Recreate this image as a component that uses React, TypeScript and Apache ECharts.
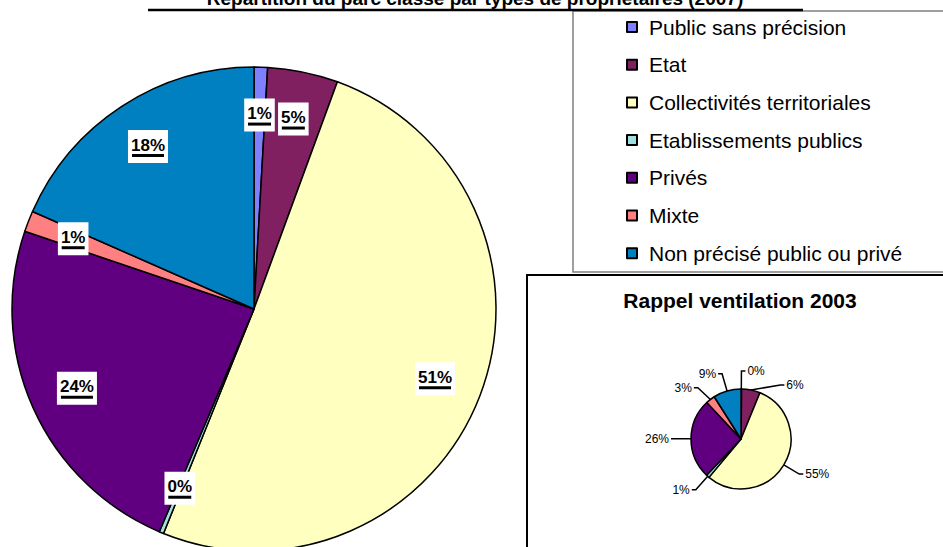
import React, { useEffect, useRef } from "react";
import * as echarts from "echarts";

const categories = [
  "Public sans précision",
  "Etat",
  "Collectivités territoriales",
  "Etablissements publics",
  "Privés",
  "Mixte",
  "Non précisé public ou privé",
];
const colors = ["#8080FF", "#802060", "#FFFFC0", "#A0E0E0", "#600080", "#FF8080", "#0080C0"];
// Répartition 2007 (%)
const values2007 = [0.9, 4.7, 50.5, 0.3, 23.8, 1.4, 18.4];
// Rappel ventilation 2003 (%)
const values2003 = [0.2, 6, 55, 1, 26, 3, 9];

const titleText = "Répartition du parc classé par types de propriétaires (2007)";
const subTitleText = "Rappel ventilation 2003";

const FONT = "'Liberation Sans', Arial, sans-serif";

export default function App() {
  const ref = useRef<HTMLDivElement>(null);
  useEffect(() => {
    if (!ref.current) return;
    const chart = echarts.init(ref.current, null, { renderer: "svg" });
    const mainData = categories.map((name, i) => ({
      name,
      value: values2007[i],
      itemStyle: { color: colors[i] },
    }));
    const smallData = categories.map((name, i) => ({
      name,
      value: values2003[i],
      itemStyle: { color: colors[i] },
    }));
    chart.setOption({
      animation: false,
      backgroundColor: "#fff",
      legend: {
        orient: "vertical",
        left: 626,
        top: 16,
        padding: 0,
        itemWidth: 10,
        itemHeight: 10,
        itemGap: 15.7,
        icon: "rect",
        data: categories,
        selectedMode: false,
        textStyle: {
          fontFamily: FONT,
          fontSize: 21,
          color: "#000",
          lineHeight: 22,
          padding: [0, 0, 0, 7],
        },
      },
      graphic: [
        {
          type: "rect",
          z: -1,
          shape: { x: 573, y: 11, width: 400, height: 261 },
          style: { fill: "none", stroke: "#808080", lineWidth: 1.5 },
        },
        {
          type: "rect",
          z: -1,
          shape: { x: 527, y: 275, width: 430, height: 300 },
          style: { fill: "#fff", stroke: "#000", lineWidth: 2 },
        },
        {
          type: "text",
          x: 475,
          y: -1.5,
          style: {
            text: titleText,
            font: `bold 19px ${FONT}`,
            fill: "#000",
            align: "center",
            verticalAlign: "middle",
          },
        },
        {
          type: "line",
          shape: { x1: 148, y1: 10, x2: 803, y2: 10 },
          style: { stroke: "#000", lineWidth: 2.5 },
        },
        {
          type: "text",
          x: 740,
          y: 300,
          style: {
            text: subTitleText,
            font: `bold 21px ${FONT}`,
            fill: "#000",
            align: "center",
            verticalAlign: "middle",
          },
        },
      ],
      series: [
        {
          type: "pie",
          center: [254, 309],
          radius: [0, 242],
          startAngle: 90,
          clockwise: true,
          silent: true,
          data: mainData,
          label: { show: false },
          labelLine: { show: false },
          itemStyle: { borderColor: "#000", borderWidth: 1.5 },
        },
        {
          type: "pie",
          center: [254, 309],
          radius: [140, 242],
          startAngle: 90,
          clockwise: true,
          silent: true,
          legendHoverLink: false,
          data: categories.map((name, i) => ({
            name,
            value: values2007[i],
            itemStyle: { color: "rgba(0,0,0,0)", borderWidth: 0 },
          })),
          label: {
            show: true,
            position: "inside",
            formatter: (p: any) => {
              const t = `${Math.round(p.value)}%`;
              return `{t|${t}}\n{${t.length > 2 ? "u3" : "u2"}| }`;
            },
            backgroundColor: "#fff",
            padding: [6, 3, 6, 3],
            rich: {
              t: {
                fontFamily: FONT,
                fontWeight: "bold",
                fontSize: 17,
                color: "#000",
                lineHeight: 18,
              },
              u2: { width: 23, height: 3, lineHeight: 3, backgroundColor: "#000" },
              u3: { width: 32, height: 3, lineHeight: 3, backgroundColor: "#000" },
            },
          },
          labelLine: { show: false },
        },
        {
          type: "pie",
          center: [741, 439],
          radius: [0, 50],
          startAngle: 90,
          clockwise: true,
          silent: true,
          data: smallData,
          itemStyle: { borderColor: "#000", borderWidth: 1.5 },
          label: {
            show: true,
            position: "outside",
            formatter: (p: any) => `${Math.round(p.value)}%`,
            fontFamily: FONT,
            fontSize: 12,
            color: "#000",
            distanceToLabelLine: 2,
          },
          labelLine: {
            show: true,
            length: 18,
            length2: 4,
            lineStyle: { color: "#000", width: 1.5 },
          },
        },
      ],
    });
    return () => chart.dispose();
  }, []);
  return (
    <div
      ref={ref}
      style={{ position: "fixed", left: 0, top: 0, width: 943, height: 547 }}
    />
  );
}
